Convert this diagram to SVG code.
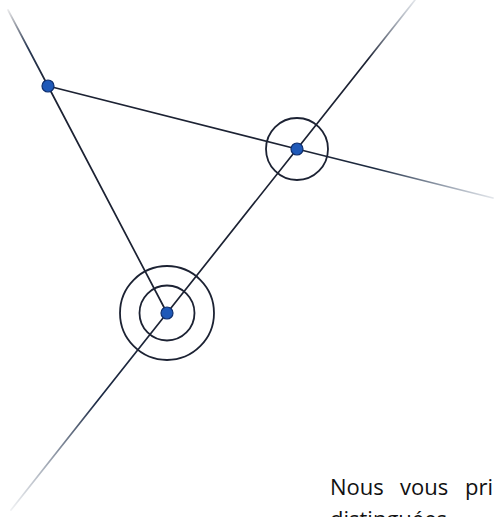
<svg xmlns="http://www.w3.org/2000/svg" width="496" height="517" viewBox="0 0 496 517">
<style>
.ln{stroke:#1c2233;stroke-width:1.7;fill:none;stroke-linecap:round}
.ring{stroke:#1c2233;stroke-width:1.8;fill:none}
.pt{fill:#1f59b8;stroke:#0f2f6e;stroke-width:1.2}
.txt{font-family:"Open Sans","Liberation Sans",sans-serif;font-size:22px;fill:#111}
</style>
<defs>
<linearGradient id="gA" gradientUnits="userSpaceOnUse" x1="48" y1="86" x2="8" y2="10">
<stop offset="0" stop-color="#1c2233"/><stop offset="0.5" stop-color="#2a3a55"/><stop offset="1" stop-color="#1c2233" stop-opacity="0.1"/>
</linearGradient>
<linearGradient id="gB" gradientUnits="userSpaceOnUse" x1="297" y1="149" x2="493" y2="198">
<stop offset="0" stop-color="#1c2233"/><stop offset="0.4" stop-color="#1c2a40"/><stop offset="1" stop-color="#3a5070" stop-opacity="0.15"/>
</linearGradient>
<linearGradient id="gC" gradientUnits="userSpaceOnUse" x1="167" y1="313" x2="11" y2="510">
<stop offset="0" stop-color="#1c2233"/><stop offset="0.45" stop-color="#1c2a45"/><stop offset="1" stop-color="#5a6a80" stop-opacity="0.1"/>
</linearGradient>
<linearGradient id="gD" gradientUnits="userSpaceOnUse" x1="297" y1="149" x2="415" y2="0">
<stop offset="0" stop-color="#1c2233"/><stop offset="0.6" stop-color="#1c2233"/><stop offset="1" stop-color="#6a7a90" stop-opacity="0.2"/>
</linearGradient>
</defs>
<g id="connectors">
<line class="ln" x1="48" y1="86" x2="167" y2="313"/>
<line class="ln" x1="48" y1="86" x2="8" y2="10" style="stroke:url(#gA)"/>
<line class="ln" x1="48" y1="86" x2="297" y2="149"/>
<line class="ln" x1="297" y1="149" x2="493" y2="198" style="stroke:url(#gB)"/>
<line class="ln" x1="167" y1="313" x2="297" y2="149"/>
<line class="ln" x1="297" y1="149" x2="415" y2="0" style="stroke:url(#gD)"/>
<line class="ln" x1="167" y1="313" x2="11" y2="510" style="stroke:url(#gC)"/>
</g>
<g id="nodeA">
<circle class="pt" cx="48" cy="86" r="6"/>
</g>
<g id="nodeB">
<circle class="ring" cx="297" cy="149" r="31"/>
<circle class="pt" cx="297" cy="149" r="6"/>
</g>
<g id="nodeC">
<circle class="ring" cx="167" cy="313" r="47"/>
<circle class="ring" cx="167" cy="313" r="27.5"/>
<circle class="pt" cx="167" cy="313" r="6"/>
</g>
<g id="text">
<text class="txt" x="330" y="495">Nous</text>
<text class="txt" x="400" y="495">vous</text>
<text class="txt" x="465" y="495">pri</text>
<text class="txt" x="330" y="527">distinguées</text>
</g>
</svg>
